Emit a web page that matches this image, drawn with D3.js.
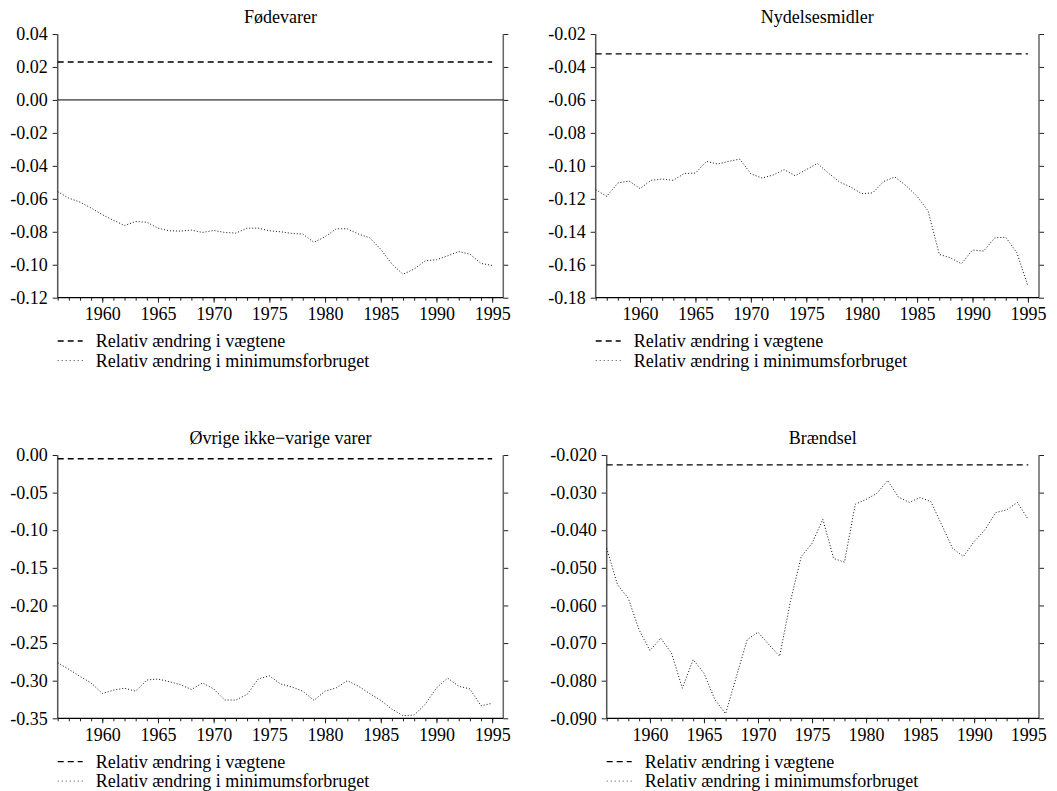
<!DOCTYPE html>
<html>
<head>
<meta charset="utf-8">
<script src="https://cdn.jsdelivr.net/npm/d3@7"></script>
<style>
  body { margin: 0; background: #fff; }
  svg { display: block; }
  text { font-family: "Liberation Serif", "Times New Roman", Times, serif; fill: #000; }
</style>
</head>
<body>
<svg id="chart" width="1057" height="791"></svg>
<script>
// Years covered by every panel
const years = [1956, 1957, 1958, 1959, 1960, 1961, 1962, 1963, 1964, 1965,
               1966, 1967, 1968, 1969, 1970, 1971, 1972, 1973, 1974, 1975,
               1976, 1977, 1978, 1979, 1980, 1981, 1982, 1983, 1984, 1985,
               1986, 1987, 1988, 1989, 1990, 1991, 1992, 1993, 1994, 1995];
const xTickYears = [1960, 1965, 1970, 1975, 1980, 1985, 1990, 1995];

const seriesNames = ["Relativ ændring i vægtene", "Relativ ændring i minimumsforbruget"];
const panelTitles = ["Fødevarer", "Nydelsesmidler", "Øvrige ikke−varige varer", "Brændsel"];

// Relative change in the weights (constant over the period)
const weightChange = [0.023, -0.032, -0.005, -0.0226];

// Relative change in minimum consumption, one value per year
const minFodevarer = [-0.0556, -0.0596, -0.0620, -0.0656, -0.0696, -0.0730, -0.0762, -0.0738, -0.0742, -0.0778,
                      -0.0794, -0.0796, -0.0790, -0.0804, -0.0792, -0.0804, -0.0808, -0.0778, -0.0778, -0.0794,
                      -0.0800, -0.0810, -0.0814, -0.0864, -0.0830, -0.0782, -0.0782, -0.0814, -0.0836, -0.0906,
                      -0.0996, -0.1058, -0.1026, -0.0976, -0.0970, -0.0946, -0.0920, -0.0936, -0.0992, -0.1004];
const minNydelse    = [-0.1144, -0.1185, -0.1104, -0.1092, -0.1138, -0.1088, -0.1080, -0.1088, -0.1046, -0.1044,
                      -0.0973, -0.0989, -0.0973, -0.0959, -0.1048, -0.1074, -0.1056, -0.1023, -0.1060, -0.1023,
                      -0.0985, -0.1044, -0.1098, -0.1128, -0.1169, -0.1164, -0.1094, -0.1068, -0.1120, -0.1185,
                      -0.1275, -0.1537, -0.1558, -0.1594, -0.1511, -0.1517, -0.1437, -0.1433, -0.1527, -0.1729];
const minOvrige     = [-0.2761, -0.2848, -0.2943, -0.3030, -0.3170, -0.3126, -0.3100, -0.3139, -0.2991, -0.2978,
                      -0.3013, -0.3052, -0.3117, -0.3030, -0.3109, -0.3257, -0.3257, -0.3183, -0.2978, -0.2935,
                      -0.3043, -0.3083, -0.3139, -0.3261, -0.3139, -0.3096, -0.3000, -0.3074, -0.3170, -0.3261,
                      -0.3378, -0.3465, -0.3457, -0.3313, -0.3096, -0.2965, -0.3074, -0.3109, -0.3335, -0.3300];
const minBraendsel  = [-0.0448, -0.0545, -0.0581, -0.0665, -0.0720, -0.0687, -0.0727, -0.0820, -0.0744, -0.0780,
                      -0.0850, -0.0888, -0.0789, -0.0691, -0.0671, -0.0704, -0.0735, -0.0589, -0.0470, -0.0435,
                      -0.0371, -0.0475, -0.0485, -0.0331, -0.0318, -0.0302, -0.0268, -0.0312, -0.0326, -0.0313,
                      -0.0324, -0.0386, -0.0448, -0.0470, -0.0430, -0.0399, -0.0353, -0.0346, -0.0326, -0.0371];

// Y tick values per panel
const yTicksFodevarer = [0.04, 0.02, 0.00, -0.02, -0.04, -0.06, -0.08, -0.10, -0.12];
const yTicksNydelse   = [-0.02, -0.04, -0.06, -0.08, -0.10, -0.12, -0.14, -0.16, -0.18];
const yTicksOvrige    = [0.00, -0.05, -0.10, -0.15, -0.20, -0.25, -0.30, -0.35];
const yTicksBraendsel = [-0.020, -0.030, -0.040, -0.050, -0.060, -0.070, -0.080, -0.090];

const panels = [
  { title: panelTitles[0], weight: weightChange[0], minSeries: minFodevarer, ticks: yTicksFodevarer, decimals: 2, zeroLine: true,
    box: { l: 57.7, r: 503.3, t: 34, b: 297.7 } },
  { title: panelTitles[1], weight: weightChange[1], minSeries: minNydelse, ticks: yTicksNydelse, decimals: 2, zeroLine: false,
    box: { l: 595.7, r: 1039, t: 34, b: 297.7 } },
  { title: panelTitles[2], weight: weightChange[2], minSeries: minOvrige, ticks: yTicksOvrige, decimals: 2, zeroLine: false,
    box: { l: 57.7, r: 503.3, t: 455, b: 718.3 } },
  { title: panelTitles[3], weight: weightChange[3], minSeries: minBraendsel, ticks: yTicksBraendsel, decimals: 3, zeroLine: false,
    box: { l: 606.7, r: 1039, t: 455, b: 718.3 } }
];

const FONT = 18;
const SERIF = '"Liberation Serif", "Times New Roman", Times, serif';
const svg = d3.select("#chart");

// d3 axes set their own sans-serif font on the group; restore the serif face
function styleAxis(sel) {
  sel.attr("font-family", SERIF).attr("font-size", FONT);
  sel.select(".domain").remove();
  sel.selectAll("text").attr("fill", "#000");
  sel.selectAll("line").attr("stroke", "#222");
}

panels.forEach(p => {
  const { l, r, t, b } = p.box;
  const g = svg.append("g");
  const x = d3.scaleLinear().domain([1956, 1996]).range([l, r]);
  const y = d3.scaleLinear().domain([d3.min(p.ticks), d3.max(p.ticks)]).range([b, t]);
  const fmt = v => (Math.abs(v) < 1e-12 ? 0 : v).toFixed(p.decimals);

  // Left axis with labels
  g.append("g").attr("transform", `translate(${l},0)`)
    .call(d3.axisLeft(y).tickValues(p.ticks).tickSize(5).tickSizeOuter(0).tickPadding(5).tickFormat(fmt))
    .call(styleAxis);

  // Right axis, ticks only
  g.append("g").attr("transform", `translate(${r},0)`)
    .call(d3.axisRight(y).tickValues(p.ticks).tickSize(5).tickSizeOuter(0).tickFormat(""))
    .call(styleAxis);

  // Bottom axis: yearly minor ticks, labelled 5-year ticks
  g.append("g").attr("transform", `translate(0,${b})`)
    .call(d3.axisBottom(x).tickValues(years).tickSize(3).tickSizeOuter(0).tickFormat(""))
    .call(styleAxis);
  g.append("g").attr("transform", `translate(0,${b})`)
    .call(d3.axisBottom(x).tickValues(xTickYears).tickSize(5).tickSizeOuter(0).tickPadding(4.5).tickFormat(d3.format("d")))
    .call(styleAxis);

  // Frame: left, right and bottom lines
  g.append("line").attr("x1", l).attr("x2", l).attr("y1", t).attr("y2", b)
    .attr("stroke", "#555").attr("stroke-width", 1.5);
  g.append("line").attr("x1", r).attr("x2", r).attr("y1", t).attr("y2", b)
    .attr("stroke", "#666").attr("stroke-width", 1.5);
  g.append("line").attr("x1", l).attr("x2", r).attr("y1", b).attr("y2", b)
    .attr("stroke", "#000").attr("stroke-width", 1.2);

  if (p.zeroLine) {
    g.append("line").attr("x1", l).attr("x2", r).attr("y1", y(0)).attr("y2", y(0))
      .attr("stroke", "#000").attr("stroke-width", 1);
  }

  // Weight change: constant dashed line
  const weightLine = d3.line().x(d => x(d)).y(() => y(p.weight));
  g.append("path").datum([years[0], years[years.length - 1]])
    .attr("d", weightLine)
    .attr("fill", "none").attr("stroke", "#000").attr("stroke-width", 1.3)
    .attr("stroke-dasharray", "6 4");

  // Minimum consumption: dotted line
  const minLine = d3.line().x((d, i) => x(years[i])).y(d => y(d));
  g.append("path").datum(p.minSeries)
    .attr("d", minLine)
    .attr("fill", "none").attr("stroke", "#111").attr("stroke-width", 1)
    .attr("stroke-dasharray", "1 2");

  // Title
  g.append("text").attr("x", (l + r) / 2).attr("y", t - 10.7)
    .attr("text-anchor", "middle").style("font-size", FONT + "px").text(p.title);

  // Legend
  const legendY = [b + 49.3, b + 68.8];
  const styles = [{ dash: "6 4", w: 1.3, c: "#000" }, { dash: "1 3", w: 1, c: "#444" }];
  seriesNames.forEach((name, i) => {
    g.append("line").attr("x1", l).attr("x2", l + 25)
      .attr("y1", legendY[i] - 6).attr("y2", legendY[i] - 6)
      .attr("stroke", styles[i].c).attr("stroke-width", styles[i].w)
      .attr("stroke-dasharray", styles[i].dash);
    g.append("text").attr("x", l + 38).attr("y", legendY[i])
      .style("font-size", FONT + "px").text(name);
  });
});
</script>
</body>
</html>
